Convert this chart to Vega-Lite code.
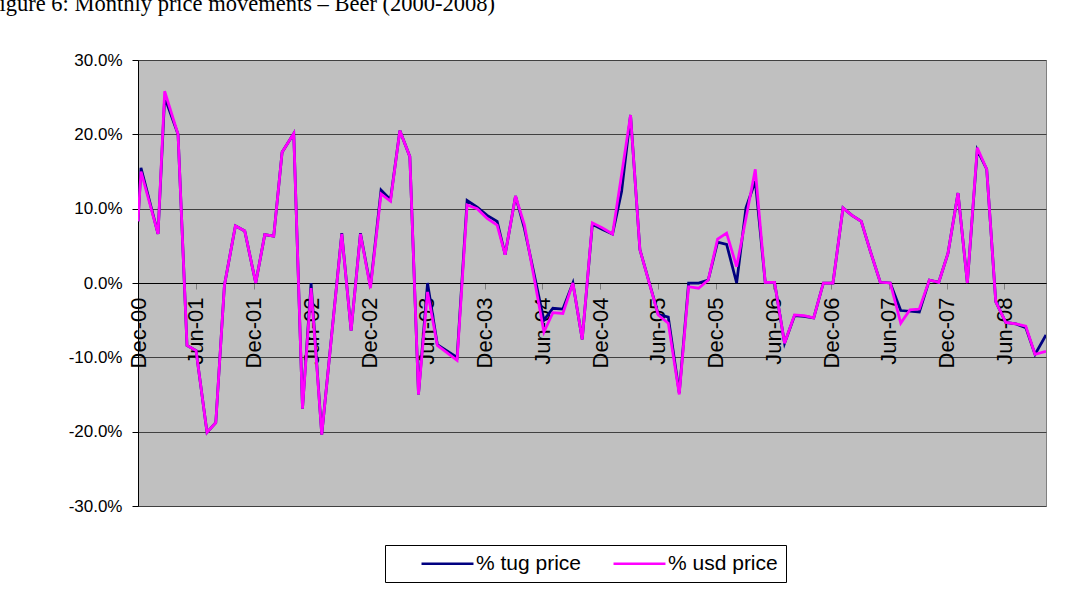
{
  "$schema": "https://vega.github.io/schema/vega-lite/v6.json",
  "width": 908,
  "height": 446,
  "autosize": {"type": "none"},
  "padding": {"left": 138, "top": 60, "right": 35, "bottom": 87},
  "background": "white",
  "title": {
    "text": "Figure 6: Monthly price movements – Beer (2000-2008)",
    "anchor": "start",
    "frame": "group",
    "font": "Liberation Serif",
    "fontSize": 22.5,
    "fontWeight": "normal",
    "color": "black",
    "dx": -151,
    "dy": 18,
    "offset": 36,
    "baseline": "alphabetic"
  },
  "config": {
    "view": {"fill": "#C0C0C0", "stroke": "#808080", "strokeWidth": 1}
  },
  "datasets": {
    "prices": [
      {"t": 0.0, "series": "% tug price", "v": 8.3},
      {"t": 0.31, "series": "% tug price", "v": 15.5},
      {"t": 2.08, "series": "% tug price", "v": 6.6},
      {"t": 2.77, "series": "% tug price", "v": 25.0},
      {"t": 4.16, "series": "% tug price", "v": 20.0},
      {"t": 5.09, "series": "% tug price", "v": -8.4},
      {"t": 6.03, "series": "% tug price", "v": -9.1},
      {"t": 7.17, "series": "% tug price", "v": -20.1},
      {"t": 8.08, "series": "% tug price", "v": -18.8},
      {"t": 8.98, "series": "% tug price", "v": -0.3},
      {"t": 10.12, "series": "% tug price", "v": 7.7},
      {"t": 11.09, "series": "% tug price", "v": 7.0},
      {"t": 12.23, "series": "% tug price", "v": 0.0},
      {"t": 13.17, "series": "% tug price", "v": 6.5},
      {"t": 14.1, "series": "% tug price", "v": 6.3},
      {"t": 14.97, "series": "% tug price", "v": 17.6},
      {"t": 16.18, "series": "% tug price", "v": 20.1},
      {"t": 17.09, "series": "% tug price", "v": -16.9},
      {"t": 17.98, "series": "% tug price", "v": 0.0},
      {"t": 19.09, "series": "% tug price", "v": -20.4},
      {"t": 21.17, "series": "% tug price", "v": 6.7},
      {"t": 22.14, "series": "% tug price", "v": -6.4},
      {"t": 23.11, "series": "% tug price", "v": 6.7},
      {"t": 24.15, "series": "% tug price", "v": -0.5},
      {"t": 25.25, "series": "% tug price", "v": 12.5},
      {"t": 26.23, "series": "% tug price", "v": 11.2},
      {"t": 27.2, "series": "% tug price", "v": 20.5},
      {"t": 28.24, "series": "% tug price", "v": 17.0},
      {"t": 29.14, "series": "% tug price", "v": -15.0},
      {"t": 30.08, "series": "% tug price", "v": 0.0},
      {"t": 31.1, "series": "% tug price", "v": -8.3},
      {"t": 33.15, "series": "% tug price", "v": -10.0},
      {"t": 34.19, "series": "% tug price", "v": 11.1},
      {"t": 35.23, "series": "% tug price", "v": 10.2},
      {"t": 36.27, "series": "% tug price", "v": 9.1},
      {"t": 37.31, "series": "% tug price", "v": 8.3},
      {"t": 38.14, "series": "% tug price", "v": 3.8},
      {"t": 39.22, "series": "% tug price", "v": 11.7},
      {"t": 40.15, "series": "% tug price", "v": 7.3},
      {"t": 42.17, "series": "% tug price", "v": -5.0},
      {"t": 43.1, "series": "% tug price", "v": -3.4},
      {"t": 44.14, "series": "% tug price", "v": -3.5},
      {"t": 45.18, "series": "% tug price", "v": 0.0},
      {"t": 46.15, "series": "% tug price", "v": -7.6},
      {"t": 47.2, "series": "% tug price", "v": 7.9},
      {"t": 48.26, "series": "% tug price", "v": 7.2},
      {"t": 49.3, "series": "% tug price", "v": 6.6},
      {"t": 50.24, "series": "% tug price", "v": 12.3},
      {"t": 51.17, "series": "% tug price", "v": 22.6},
      {"t": 52.14, "series": "% tug price", "v": 4.5},
      {"t": 54.04, "series": "% tug price", "v": -4.2},
      {"t": 55.09, "series": "% tug price", "v": -4.6},
      {"t": 56.23, "series": "% tug price", "v": -14.8},
      {"t": 57.2, "series": "% tug price", "v": 0.0},
      {"t": 58.24, "series": "% tug price", "v": 0.0},
      {"t": 59.24, "series": "% tug price", "v": 0.4},
      {"t": 60.21, "series": "% tug price", "v": 5.5},
      {"t": 61.15, "series": "% tug price", "v": 5.2},
      {"t": 62.19, "series": "% tug price", "v": 0.0},
      {"t": 63.16, "series": "% tug price", "v": 10.1},
      {"t": 64.13, "series": "% tug price", "v": 13.7},
      {"t": 65.16, "series": "% tug price", "v": 0.1},
      {"t": 66.13, "series": "% tug price", "v": 0.1},
      {"t": 67.17, "series": "% tug price", "v": -8.1},
      {"t": 68.2, "series": "% tug price", "v": -4.4},
      {"t": 69.2, "series": "% tug price", "v": -4.5},
      {"t": 70.2, "series": "% tug price", "v": -4.7},
      {"t": 71.2, "series": "% tug price", "v": 0.0},
      {"t": 72.2, "series": "% tug price", "v": 0.0},
      {"t": 73.24, "series": "% tug price", "v": 10.1},
      {"t": 74.17, "series": "% tug price", "v": 9.1},
      {"t": 75.14, "series": "% tug price", "v": 8.3},
      {"t": 76.1, "series": "% tug price", "v": 4.2},
      {"t": 77.11, "series": "% tug price", "v": 0.1},
      {"t": 78.15, "series": "% tug price", "v": 0.0},
      {"t": 79.24, "series": "% tug price", "v": -3.7},
      {"t": 80.2, "series": "% tug price", "v": -3.8},
      {"t": 81.17, "series": "% tug price", "v": -3.9},
      {"t": 82.21, "series": "% tug price", "v": 0.4},
      {"t": 83.19, "series": "% tug price", "v": 0.1},
      {"t": 84.15, "series": "% tug price", "v": 4.0},
      {"t": 85.19, "series": "% tug price", "v": 12.1},
      {"t": 86.16, "series": "% tug price", "v": 0.0},
      {"t": 87.19, "series": "% tug price", "v": 17.9},
      {"t": 88.17, "series": "% tug price", "v": 15.3},
      {"t": 89.11, "series": "% tug price", "v": -2.5},
      {"t": 90.15, "series": "% tug price", "v": -5.3},
      {"t": 91.2, "series": "% tug price", "v": -5.5},
      {"t": 92.23, "series": "% tug price", "v": -6.0},
      {"t": 93.19, "series": "% tug price", "v": -9.6},
      {"t": 94.33, "series": "% tug price", "v": -7.0},

      {"t": 0.0, "series": "% usd price", "v": 8.3},
      {"t": 0.31, "series": "% usd price", "v": 15.0},
      {"t": 2.08, "series": "% usd price", "v": 6.6},
      {"t": 2.77, "series": "% usd price", "v": 25.8},
      {"t": 4.16, "series": "% usd price", "v": 20.0},
      {"t": 5.09, "series": "% usd price", "v": -8.4},
      {"t": 6.03, "series": "% usd price", "v": -9.1},
      {"t": 7.17, "series": "% usd price", "v": -20.1},
      {"t": 8.08, "series": "% usd price", "v": -18.8},
      {"t": 8.98, "series": "% usd price", "v": -0.3},
      {"t": 10.12, "series": "% usd price", "v": 7.7},
      {"t": 11.09, "series": "% usd price", "v": 7.0},
      {"t": 12.23, "series": "% usd price", "v": 0.0},
      {"t": 13.17, "series": "% usd price", "v": 6.5},
      {"t": 14.1, "series": "% usd price", "v": 6.3},
      {"t": 14.97, "series": "% usd price", "v": 17.6},
      {"t": 16.18, "series": "% usd price", "v": 20.1},
      {"t": 17.09, "series": "% usd price", "v": -16.9},
      {"t": 17.98, "series": "% usd price", "v": -0.7},
      {"t": 19.09, "series": "% usd price", "v": -20.4},
      {"t": 21.17, "series": "% usd price", "v": 6.6},
      {"t": 22.14, "series": "% usd price", "v": -6.4},
      {"t": 23.11, "series": "% usd price", "v": 6.6},
      {"t": 24.15, "series": "% usd price", "v": -0.7},
      {"t": 25.25, "series": "% usd price", "v": 12.0},
      {"t": 26.23, "series": "% usd price", "v": 11.0},
      {"t": 27.2, "series": "% usd price", "v": 20.5},
      {"t": 28.24, "series": "% usd price", "v": 17.0},
      {"t": 29.14, "series": "% usd price", "v": -15.0},
      {"t": 30.08, "series": "% usd price", "v": -1.2},
      {"t": 31.1, "series": "% usd price", "v": -8.4},
      {"t": 33.15, "series": "% usd price", "v": -10.4},
      {"t": 34.19, "series": "% usd price", "v": 10.5},
      {"t": 35.23, "series": "% usd price", "v": 10.0},
      {"t": 36.27, "series": "% usd price", "v": 8.7},
      {"t": 37.31, "series": "% usd price", "v": 7.8},
      {"t": 38.14, "series": "% usd price", "v": 3.8},
      {"t": 39.22, "series": "% usd price", "v": 11.7},
      {"t": 40.15, "series": "% usd price", "v": 7.8},
      {"t": 42.17, "series": "% usd price", "v": -6.6},
      {"t": 43.1, "series": "% usd price", "v": -4.0},
      {"t": 44.14, "series": "% usd price", "v": -4.1},
      {"t": 45.18, "series": "% usd price", "v": 0.0},
      {"t": 46.15, "series": "% usd price", "v": -7.6},
      {"t": 47.2, "series": "% usd price", "v": 8.1},
      {"t": 48.26, "series": "% usd price", "v": 7.4},
      {"t": 49.3, "series": "% usd price", "v": 6.6},
      {"t": 50.24, "series": "% usd price", "v": 14.6},
      {"t": 51.17, "series": "% usd price", "v": 22.6},
      {"t": 52.14, "series": "% usd price", "v": 4.5},
      {"t": 54.04, "series": "% usd price", "v": -4.3},
      {"t": 55.09, "series": "% usd price", "v": -5.4},
      {"t": 56.23, "series": "% usd price", "v": -15.0},
      {"t": 57.2, "series": "% usd price", "v": -0.5},
      {"t": 58.24, "series": "% usd price", "v": -0.7},
      {"t": 59.24, "series": "% usd price", "v": 0.4},
      {"t": 60.21, "series": "% usd price", "v": 5.9},
      {"t": 61.15, "series": "% usd price", "v": 6.7},
      {"t": 62.19, "series": "% usd price", "v": 2.2},
      {"t": 63.16, "series": "% usd price", "v": 8.7},
      {"t": 64.13, "series": "% usd price", "v": 15.3},
      {"t": 65.16, "series": "% usd price", "v": 0.1},
      {"t": 66.13, "series": "% usd price", "v": 0.1},
      {"t": 67.17, "series": "% usd price", "v": -8.1},
      {"t": 68.2, "series": "% usd price", "v": -4.3},
      {"t": 69.2, "series": "% usd price", "v": -4.4},
      {"t": 70.2, "series": "% usd price", "v": -4.7},
      {"t": 71.2, "series": "% usd price", "v": 0.0},
      {"t": 72.2, "series": "% usd price", "v": 0.0},
      {"t": 73.24, "series": "% usd price", "v": 10.1},
      {"t": 74.17, "series": "% usd price", "v": 9.1},
      {"t": 75.14, "series": "% usd price", "v": 8.3},
      {"t": 76.1, "series": "% usd price", "v": 4.2},
      {"t": 77.11, "series": "% usd price", "v": 0.1},
      {"t": 78.15, "series": "% usd price", "v": 0.0},
      {"t": 79.24, "series": "% usd price", "v": -5.4},
      {"t": 80.2, "series": "% usd price", "v": -3.6},
      {"t": 81.17, "series": "% usd price", "v": -3.5},
      {"t": 82.21, "series": "% usd price", "v": 0.4},
      {"t": 83.19, "series": "% usd price", "v": 0.1},
      {"t": 84.15, "series": "% usd price", "v": 4.0},
      {"t": 85.19, "series": "% usd price", "v": 12.1},
      {"t": 86.16, "series": "% usd price", "v": 0.0},
      {"t": 87.19, "series": "% usd price", "v": 18.2},
      {"t": 88.17, "series": "% usd price", "v": 15.3},
      {"t": 89.11, "series": "% usd price", "v": -2.5},
      {"t": 90.15, "series": "% usd price", "v": -5.3},
      {"t": 91.2, "series": "% usd price", "v": -5.5},
      {"t": 92.23, "series": "% usd price", "v": -5.8},
      {"t": 93.19, "series": "% usd price", "v": -9.6},
      {"t": 94.33, "series": "% usd price", "v": -9.2}
    ]
  },
  "data": {"name": "prices"},
  "mark": {"type": "line", "strokeWidth": 2.75, "clip": true},
  "encoding": {
    "x": {
      "field": "t",
      "type": "quantitative",
      "scale": {"domain": [0, 94.33], "nice": false, "zero": false},
      "axis": {
        "orient": "bottom",
        "offset": -223,
        "title": null,
        "grid": false,
        "values": [0, 6, 12, 18, 24, 30, 36, 42, 48, 54, 60, 66, 72, 78, 84, 90],
        "labelExpr": "(datum.value % 12 == 0 ? 'Dec-' : 'Jun-') + (ceil(datum.value / 12) < 10 ? '0' : '') + ceil(datum.value / 12)",
        "labelAngle": -90,
        "labelFlush": false,
        "labelOverlap": false,
        "labelFont": "Liberation Sans",
        "labelFontSize": 22,
        "labelColor": "black",
        "labelPadding": 8,
        "tickSize": 6,
        "tickColor": "#808080",
        "domainColor": "black",
        "domainWidth": 1
      }
    },
    "y": {
      "field": "v",
      "type": "quantitative",
      "scale": {"domain": [-30, 30], "nice": false, "zero": false},
      "axis": {
        "title": null,
        "values": [-30, -20, -10, 0, 10, 20, 30],
        "labelExpr": "(datum.value < 0 ? '-' : '') + format(abs(datum.value), '.1f') + '%'",
        "labelFont": "Liberation Sans",
        "labelFontSize": 17,
        "labelColor": "black",
        "labelPadding": 10,
        "tickSize": 6,
        "tickColor": "black",
        "domainColor": "black",
        "grid": true,
        "gridColor": "#404040",
        "gridWidth": 1
      }
    },
    "color": {
      "field": "series",
      "type": "nominal",
      "scale": {"domain": ["% tug price", "% usd price"], "range": ["#000080", "#FF00FF"]},
      "legend": {
        "orient": "none",
        "legendX": 247,
        "legendY": 485,
        "direction": "horizontal",
        "title": null,
        "symbolType": "M-2.9,0H2.9",
        "symbolSize": 321,
        "symbolStrokeWidth": 2.5,
        "symbolOffset": 44,
        "labelFont": "Liberation Sans",
        "labelFontSize": 21,
        "labelColor": "black",
        "labelOffset": 18,
        "columnPadding": 3,
        "padding": 8,
        "strokeColor": "black",
        "fillColor": "white"
      }
    }
  }
}
